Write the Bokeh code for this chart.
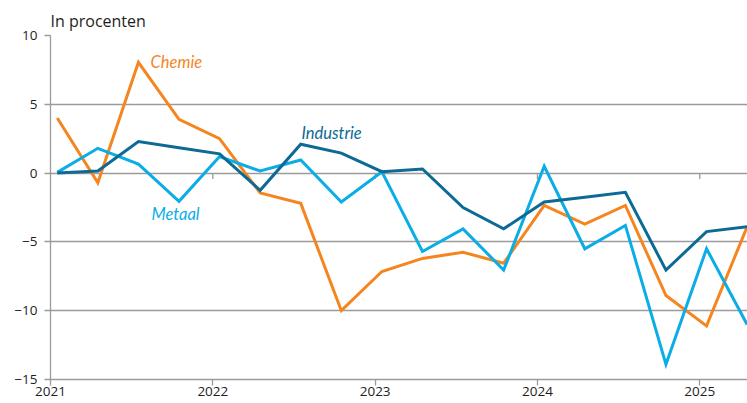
from bokeh.plotting import figure
from bokeh.models import FixedTicker, Range1d, ColumnDataSource
from bokeh.core.properties import value
from bokeh.embed import file_html
from bokeh.resources import INLINE

# Quarterly data, 2021 Q1 .. 2025 Q2
years = [2021]*4 + [2022]*4 + [2023]*4 + [2024]*4 + [2025]*2
quarters = [1, 2, 3, 4]*4 + [1, 2]
chemie = [4.0, -0.7, 8.05, 3.9, 2.5, -1.45, -2.2, -10.0, -7.15, -6.2, -5.75, -6.55,
          -2.35, -3.7, -2.35, -8.9, -11.1, -3.9]
industrie = [0.0, 0.15, 2.3, 1.85, 1.4, -1.25, 2.1, 1.45, 0.1, 0.3, -2.5, -4.05,
             -2.1, -1.75, -1.4, -7.05, -4.25, -3.9]
metaal = [0.05, 1.8, 0.65, -2.05, 1.2, 0.15, 0.95, -2.1, 0.1, -5.7, -4.05, -7.05,
          0.5, -5.5, -3.8, -13.9, -5.5, -11.0]
year_ticks = [2021, 2022, 2023, 2024, 2025]
y_ticks = [-15, -10, -5, 0, 5, 10]

# plotted at the middle of each quarter's first month
xs = [y + (q - 1) / 4 + 1 / 24 for y, q in zip(years, quarters)]

ORANGE = "#F5861F"
DARK = "#0C6A95"
LIGHT = "#0AADE6"
GRID = "#9b9b9b"
TXT = "#1e1e1e"

p = figure(width=747, height=403, output_backend="svg", toolbar_location=None,
           x_range=Range1d(2021, 2025.294), y_range=Range1d(-15, 10),
           title="In procenten", min_border_left=50, min_border_right=0,
           min_border_top=35, min_border_bottom=24)
p.outline_line_color = None
p.background_fill_color = "white"
p.border_fill_color = "white"

p.title.text_font = "Open Sans"
p.title.text_font_size = "16px"
p.title.text_font_style = "normal"
p.title.text_color = TXT
p.title.align = "left"
p.title.offset = 0
p.title.standoff = 7

# axes
p.xaxis.ticker = FixedTicker(ticks=year_ticks)
p.yaxis.ticker = FixedTicker(ticks=y_ticks)
p.yaxis.major_label_overrides = {t: (str(t).replace("-", "\u2212")) for t in y_ticks}
for ax in (p.xaxis[0], p.yaxis[0]):
    ax.axis_line_color = GRID
    ax.axis_line_width = 1.3
    ax.major_tick_line_color = GRID
    ax.major_tick_line_width = 1.3
    ax.minor_tick_line_color = None
    ax.major_tick_in = 0
    ax.major_label_text_font = "Open Sans"
    ax.major_label_text_font_size = "13.5px"
    ax.major_label_text_color = TXT
p.xaxis.major_tick_out = 6
p.yaxis.major_tick_out = 6
p.yaxis.major_label_standoff = 7
p.xaxis.major_label_standoff = 1

p.xgrid.grid_line_color = None
p.ygrid.grid_line_color = GRID
p.ygrid.grid_line_width = 1.3

# small tick marks on the zero line
px_per_unit = (379 - 35) / 25.0
tick_len = 6 / px_per_unit
zsrc = ColumnDataSource(dict(x=year_ticks[1:], y0=[0]*4, y1=[-tick_len]*4))
p.segment(x0="x", x1="x", y0="y0", y1="y1", source=zsrc, line_color=GRID, line_width=1.3)

p.line(xs, chemie, line_color=ORANGE, line_width=3, line_join="miter")
p.line(xs, metaal, line_color=LIGHT, line_width=3, line_join="miter")
p.line(xs, industrie, line_color=DARK, line_width=3, line_join="miter")

labels = dict(x=[2021.616, 2022.546, 2021.622], y=[8.07, 2.9, -2.98],
              t=["Chemie", "Industrie", "Metaal"], c=[ORANGE, DARK, LIGHT])
p.text(x="x", y="y", text="t", text_color="c", source=ColumnDataSource(labels),
       text_font=value("Lato"), text_font_style="italic", text_font_size="16.5px",
       text_baseline="middle", text_align="left")

open("out.html", "w").write(file_html(p, INLINE))
